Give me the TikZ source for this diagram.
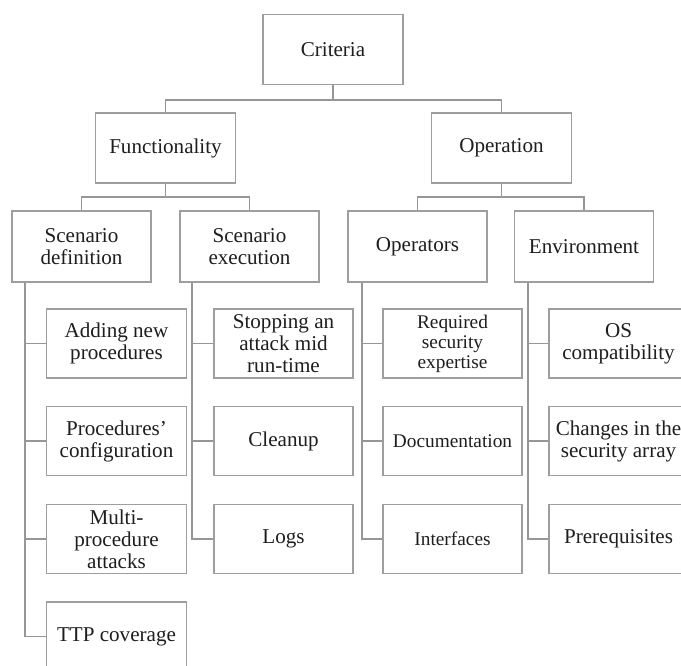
\documentclass[tikz,border=0pt]{standalone}
\usepackage{fontspec}
\setmainfont{Liberation Serif}

\begin{document}
\begin{tikzpicture}[%
  box/.style={draw={rgb,255:red,158;green,158;blue,158}, line width=1pt, fill=white, minimum width=2.800000cm, minimum height=1.400000cm, inner sep=0pt, align=center, text={rgb,255:red,30;green,30;blue,30}, font=\fontsize{12.000000}{12.500000}\selectfont},
  leaf/.style={box, minimum height=1.380000cm},
  small/.style={font=\fontsize{11.000000}{11.400000}\selectfont},
  link/.style={draw={rgb,255:red,150;green,150;blue,150}, line width=1pt}]%
\useasboundingbox (0, 0) rectangle (13.620000, 13.320000);%
% top levels
\node[box] (crit) at (6.660000, 12.330000) {Criteria};%
\node[box] (func) at (3.310000, 10.360000) {Functionality};%
\node[box] (oper) at (10.030000, 10.360000) {Operation};%
\node[box, minimum width=2.780000cm, minimum height=1.420000cm] (sdef) at (1.630000, 8.390000) {Scenario\\definition};%
\node[box, minimum width=2.780000cm, minimum height=1.420000cm] (sexe) at (4.990000, 8.390000) {Scenario\\execution};%
\node[box, minimum width=2.780000cm, minimum height=1.420000cm] (opers) at (8.350000, 8.390000) {Operators};%
\node[box, minimum width=2.780000cm, minimum height=1.420000cm] (env) at (11.680000, 8.390000) {Environment};%
% leaves
\node[leaf] (add) at (2.330000, 6.450000) {Adding new\\procedures};%
\node[leaf] (conf) at (2.330000, 4.500000) {Procedures'\\configuration};%
\node[leaf] (multi) at (2.330000, 2.540000) {Multi-\\procedure\\attacks};%
\node[leaf] (ttp) at (2.330000, 0.590000) {TTP coverage};%
\node[leaf, minimum width=2.780000cm] (stop) at (5.670000, 6.450000) {Stopping an\\attack mid\\run-time};%
\node[leaf, minimum width=2.780000cm] (clean) at (5.670000, 4.500000) {Cleanup};%
\node[leaf, minimum width=2.780000cm] (logs) at (5.670000, 2.540000) {Logs};%
\node[leaf, small, minimum width=2.780000cm] (req) at (9.050000, 6.450000) {Required\\security\\expertise};%
\node[leaf, small, minimum width=2.780000cm] (doc) at (9.050000, 4.500000) {Documentation};%
\node[leaf, small, minimum width=2.780000cm] (intf) at (9.050000, 2.540000) {Interfaces};%
\node[leaf, minimum width=2.780000cm] (os) at (12.370000, 6.450000) {OS\\compatibility};%
\node[leaf, minimum width=2.780000cm] (chg) at (12.370000, 4.500000) {Changes in the\\security array};%
\node[leaf, minimum width=2.780000cm] (prereq) at (12.370000, 2.540000) {Prerequisites};%
% connectors
\draw[link] (crit.south) -- ++(0, -0.300000) -| (func.north);%
\draw[link] (crit.south) -- ++(0, -0.300000) -| (oper.north);%
\draw[link] (func.south) -- ++(0, -0.260000) -| (sdef.north);%
\draw[link] (func.south) -- ++(0, -0.260000) -| (sexe.north);%
\draw[link] (oper.south) -- ++(0, -0.260000) -| (opers.north);%
\draw[link] (oper.south) -- ++(0, -0.260000) -| (env.north);%
\foreach \leafnode in {add, conf, multi, ttp}
  \draw[link] ([xshift=0.280000cm]sdef.south west) |- (\leafnode.west);%
\foreach \leafnode in {stop, clean, logs}
  \draw[link] ([xshift=0.260000cm]sexe.south west) |- (\leafnode.west);%
\foreach \leafnode in {req, doc, intf}
  \draw[link] ([xshift=0.300000cm]opers.south west) |- (\leafnode.west);%
\foreach \leafnode in {os, chg, prereq}
  \draw[link] ([xshift=0.280000cm]env.south west) |- (\leafnode.west);%
\end{tikzpicture}
\end{document}
